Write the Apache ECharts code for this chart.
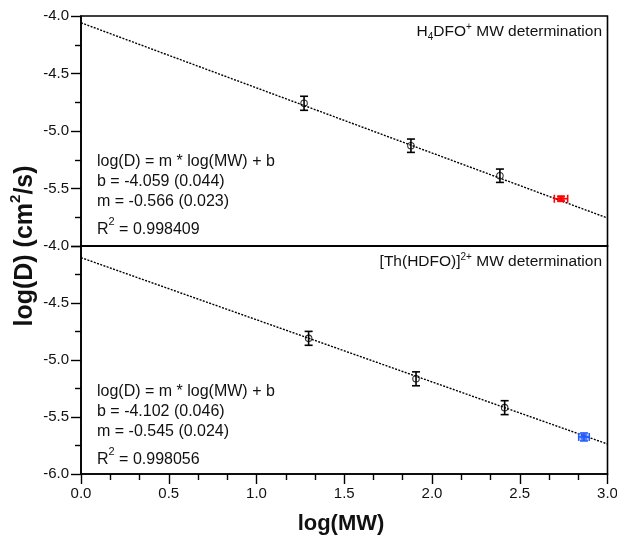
<!DOCTYPE html>
<html>
<head>
<meta charset="utf-8">
<script src="https://cdn.jsdelivr.net/npm/echarts@6/dist/echarts.min.js"></script>
<style>html,body{margin:0;padding:0;background:#fff}#c{width:617px;height:540px}</style>
</head>
<body>
<div id="c"></div>
<script>
// ---- data ----
const xTicks = [0, 0.5, 1.0, 1.5, 2.0, 2.5, 3.0];
const yTicks = [-4.0, -4.5, -5.0, -5.5, -6.0];

// top panel: H4DFO+ calibration standards
const topMW = [1.271, 1.880, 2.387];
const topLogD = [-4.759, -5.128, -5.389];
const topErr = [0.061, 0.058, 0.058];
// top panel unknown (red)
const topUnkMW = [2.735];
const topUnkLogD = [-5.589];
const topUnkXErr = [0.038];
const topUnkYErr = [0.02];
// top panel fit line end points
const topFitX = [0, 3];
const topFitY = [-4.059, -5.757];

// bottom panel: [Th(HDFO)]2+ calibration standards
const botMW = [1.297, 1.909, 2.414];
const botLogD = [-4.810, -5.165, -5.418];
const botErr = [0.061, 0.061, 0.061];
// bottom unknown (blue)
const botUnkMW = [2.866];
const botUnkLogD = [-5.675];
const botUnkXErr = [0.03];
const botUnkYErr = [0.035];
// bottom fit line end points
const botFitX = [0, 3];
const botFitY = [-4.102, -5.737];

const topStats = ['log(D) = m * log(MW) + b', 'b = -4.059 (0.044)', 'm = -0.566 (0.023)', '0.998409'];
const botStats = ['log(D) = m * log(MW) + b', 'b = -4.102 (0.046)', 'm = -0.545 (0.024)', '0.998056'];

// ---- build ----
const FONT = '"Liberation Sans", Arial, Helvetica, sans-serif';
const chart = echarts.init(document.getElementById('c'));

function pts(xs, ys, ex, ey) {
  return xs.map((x, i) => [x, ys[i], ex ? ex[i] : 0, ey ? ey[i] : 0]);
}
function errSeries(idx, data, color) {
  return {
    type: 'custom', xAxisIndex: idx, yAxisIndex: idx, z: 3, silent: true,
    data: data,
    renderItem: function (params, api) {
      const x = api.value(0), y = api.value(1), ex = api.value(2), ey = api.value(3);
      const c = api.coord([x, y]);
      const children = [];
      const st = { stroke: color, lineWidth: 1.6 };
      const cap = 4;
      if (ey > 0) {
        const t = api.coord([x, y + ey]), b = api.coord([x, y - ey]);
        children.push({ type: 'line', shape: { x1: c[0], y1: t[1], x2: c[0], y2: b[1] }, style: st });
        children.push({ type: 'line', shape: { x1: c[0] - cap, y1: t[1], x2: c[0] + cap, y2: t[1] }, style: st });
        children.push({ type: 'line', shape: { x1: c[0] - cap, y1: b[1], x2: c[0] + cap, y2: b[1] }, style: st });
      }
      if (ex > 0) {
        const l = api.coord([x - ex, y]), r = api.coord([x + ex, y]);
        children.push({ type: 'line', shape: { x1: l[0], y1: c[1], x2: r[0], y2: c[1] }, style: st });
        children.push({ type: 'line', shape: { x1: l[0], y1: c[1] - cap, x2: l[0], y2: c[1] + cap }, style: st });
        children.push({ type: 'line', shape: { x1: r[0], y1: c[1] - cap, x2: r[0], y2: c[1] + cap }, style: st });
      }
      return { type: 'group', children: children };
    }
  };
}
function fitSeries(idx, xs, ys) {
  return {
    type: 'line', xAxisIndex: idx, yAxisIndex: idx, z: 2, silent: true,
    data: xs.map((x, i) => [x, ys[i]]), symbol: 'none',
    lineStyle: { color: '#000', width: 1.4, type: [2, 1.4] }
  };
}
function openPts(idx, xs, ys) {
  return {
    type: 'scatter', xAxisIndex: idx, yAxisIndex: idx, z: 4, silent: true,
    data: xs.map((x, i) => [x, ys[i]]), symbol: 'circle', symbolSize: 6.5,
    itemStyle: { color: 'rgba(0,0,0,0)', borderColor: '#000', borderWidth: 1.1 }
  };
}
function filledPts(idx, xs, ys, color) {
  return {
    type: 'scatter', xAxisIndex: idx, yAxisIndex: idx, z: 4, silent: true,
    data: xs.map((x, i) => [x, ys[i]]), symbol: 'rect', symbolSize: 7,
    itemStyle: { color: color }
  };
}
const axLine = { show: true, onZero: false, lineStyle: { color: '#000', width: 1.6 } };
function yAxis(idx, hideMin) {
  return {
    type: 'value', gridIndex: idx, min: yTicks[yTicks.length - 1], max: yTicks[0], interval: 0.5,
    axisLine: axLine,
    axisTick: { show: true, inside: false, length: 10, lineStyle: { color: '#000', width: 1.4 } },
    minorTick: { show: true, splitNumber: 2, length: 6, lineStyle: { color: '#000', width: 1.4 } },
    splitLine: { show: false },
    axisLabel: {
      margin: 12, color: '#111', fontFamily: FONT, fontSize: 15,
      formatter: v => (hideMin && Math.abs(v - yTicks[yTicks.length - 1]) < 1e-9) ? '' : v.toFixed(1)
    }
  };
}
function xAxis(idx, showLabels) {
  return {
    type: 'value', gridIndex: idx, min: xTicks[0], max: xTicks[xTicks.length - 1], interval: 0.5,
    axisLine: axLine,
    axisTick: { show: showLabels, inside: false, length: 10, lineStyle: { color: '#000', width: 1.4 } },
    minorTick: { show: showLabels, splitNumber: 3, length: 6, lineStyle: { color: '#000', width: 1.4 } },
    splitLine: { show: false },
    axisLabel: { show: showLabels, margin: 12, color: '#111', fontFamily: FONT, fontSize: 15,
      formatter: v => v.toFixed(1) }
  };
}
const richBase = {
  n: { fontFamily: FONT, fontSize: 15.5, color: '#111', lineHeight: 20, verticalAlign: 'middle' },
  sup: { fontFamily: FONT, fontSize: 10, color: '#111', lineHeight: 20, verticalAlign: 'top' },
  sub: { fontFamily: FONT, fontSize: 10, color: '#111', lineHeight: 20, verticalAlign: 'bottom' }
};
function statsGraphics(lines, y0) {
  const g = [];
  const ys = [y0, y0 + 20, y0 + 40];
  for (let i = 0; i < 3; i++) {
    g.push({ type: 'text', left: 97, top: ys[i] - 9, silent: true,
      style: { text: lines[i], font: '16px ' + FONT, fill: '#111' } });
  }
  g.push({ type: 'text', left: 97, top: y0 + 53, silent: true,
    style: { text: '{n|R}{s|2}{n| = ' + lines[3] + '}', fill: '#111',
      rich: { n: { fontFamily: FONT, fontSize: 16, lineHeight: 22, verticalAlign: 'bottom' },
              s: { fontFamily: FONT, fontSize: 11, lineHeight: 22, verticalAlign: 'top' } } } });
  return g;
}

const option = {
  animation: false,
  backgroundColor: '#fff',
  grid: [
    { left: 81, top: 16, width: 526.5, height: 230, show: true, borderColor: '#000', borderWidth: 1.6,
      backgroundColor: 'transparent', containLabel: false, outerBoundsMode: 'none' },
    { left: 81, top: 246, width: 526.5, height: 228, show: true, borderColor: '#000', borderWidth: 1.6,
      backgroundColor: 'transparent', containLabel: false, outerBoundsMode: 'none' }
  ],
  xAxis: [xAxis(0, false), xAxis(1, true)],
  yAxis: [yAxis(0, true), yAxis(1, false)],
  series: [
    fitSeries(0, topFitX, topFitY),
    errSeries(0, pts(topMW, topLogD, null, topErr), '#000'),
    openPts(0, topMW, topLogD),
    errSeries(0, pts(topUnkMW, topUnkLogD, topUnkXErr, topUnkYErr), '#ff0000'),
    filledPts(0, topUnkMW, topUnkLogD, '#ff0000'),
    fitSeries(1, botFitX, botFitY),
    errSeries(1, pts(botMW, botLogD, null, botErr), '#000'),
    openPts(1, botMW, botLogD),
    errSeries(1, pts(botUnkMW, botUnkLogD, botUnkXErr, botUnkYErr), '#1f5cff'),
    filledPts(1, botUnkMW, botUnkLogD, '#1f5cff')
  ],
  graphic: [
    { type: 'text', right: 15, top: 22, silent: true,
      style: { text: '{n|H}{sub|4}{n|DFO}{sup|+}{n| MW determination}', rich: richBase, fill: '#111' } },
    { type: 'text', right: 15, top: 252, silent: true,
      style: { text: '{n|[Th(HDFO)]}{sup|2+}{n| MW determination}', rich: richBase, fill: '#111' } },
    ...statsGraphics(topStats, 163),
    ...statsGraphics(botStats, 393),
    { type: 'text', x: 341, y: 524, silent: true,
      style: { text: 'log(MW)', font: 'bold 22px ' + FONT, fill: '#111', textAlign: 'center', textVerticalAlign: 'middle' } },
    { type: 'text', x: 23, y: 246, rotation: Math.PI / 2, silent: true,
      style: { text: '{b|log(D) (cm}{s|2}{b|/s)}', fill: '#111', textAlign: 'center', textVerticalAlign: 'middle',
        rich: { b: { fontFamily: FONT, fontWeight: 'bold', fontSize: 25, lineHeight: 29, verticalAlign: 'bottom' },
                s: { fontFamily: FONT, fontWeight: 'bold', fontSize: 15, lineHeight: 29, verticalAlign: 'top' } } } }
  ]
};
chart.setOption(option);
</script>
</body>
</html>
